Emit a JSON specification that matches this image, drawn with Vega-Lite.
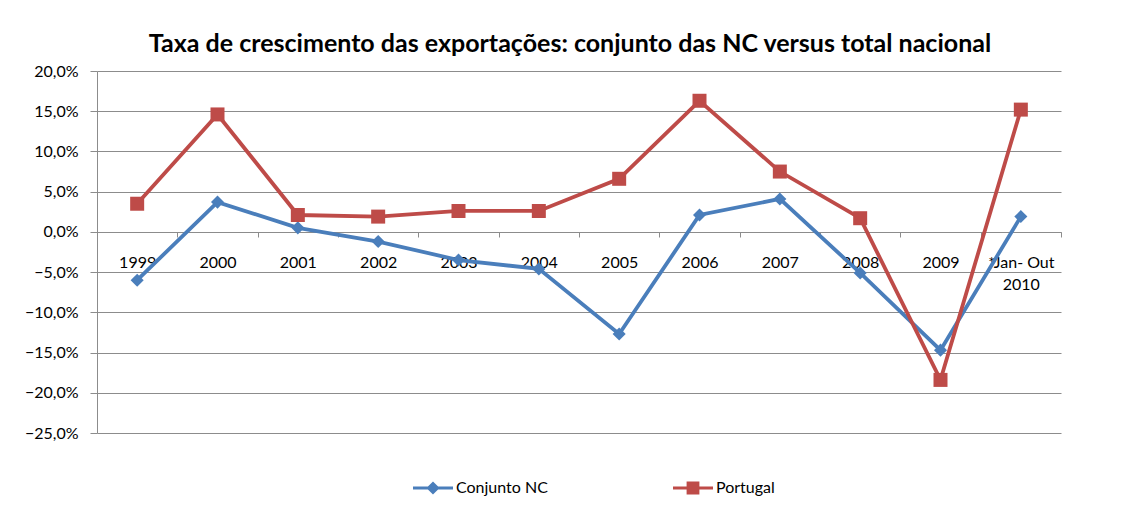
{
  "$schema": "https://vega.github.io/schema/vega-lite/v6.json",
  "width": 964,
  "height": 362,
  "autosize": "none",
  "padding": {"left": 97, "top": 71, "right": 63, "bottom": 79},
  "background": "white",
  "config": {
    "view": {"stroke": null},
    "font": "Lato",
    "axis": {"labelFont": "Lato", "labelColor": "#000000", "labelFontSize": 16, "gridColor": "#8c8c8c", "domainColor": "#8c8c8c", "tickColor": "#8c8c8c"}
  },
  "title": {
    "text": "Taxa de crescimento das exportações: conjunto das NC versus total nacional",
    "font": "Lato",
    "fontSize": 25,
    "fontWeight": "bold",
    "color": "#000000",
    "anchor": "middle",
    "dx": -9,
    "offset": 6
  },
  "data": {
    "values": [
      {"year": "1999", "series": "Conjunto NC", "value": -6.0},
      {"year": "2000", "series": "Conjunto NC", "value": 3.7},
      {"year": "2001", "series": "Conjunto NC", "value": 0.5},
      {"year": "2002", "series": "Conjunto NC", "value": -1.2},
      {"year": "2003", "series": "Conjunto NC", "value": -3.5},
      {"year": "2004", "series": "Conjunto NC", "value": -4.6},
      {"year": "2005", "series": "Conjunto NC", "value": -12.7},
      {"year": "2006", "series": "Conjunto NC", "value": 2.1},
      {"year": "2007", "series": "Conjunto NC", "value": 4.1},
      {"year": "2008", "series": "Conjunto NC", "value": -5.1},
      {"year": "2009", "series": "Conjunto NC", "value": -14.7},
      {"year": "*Jan- Out 2010", "series": "Conjunto NC", "value": 1.9},
      {"year": "1999", "series": "Portugal", "value": 3.5},
      {"year": "2000", "series": "Portugal", "value": 14.6},
      {"year": "2001", "series": "Portugal", "value": 2.1},
      {"year": "2002", "series": "Portugal", "value": 1.9},
      {"year": "2003", "series": "Portugal", "value": 2.6},
      {"year": "2004", "series": "Portugal", "value": 2.6},
      {"year": "2005", "series": "Portugal", "value": 6.6},
      {"year": "2006", "series": "Portugal", "value": 16.3},
      {"year": "2007", "series": "Portugal", "value": 7.5},
      {"year": "2008", "series": "Portugal", "value": 1.7},
      {"year": "2009", "series": "Portugal", "value": -18.4},
      {"year": "*Jan- Out 2010", "series": "Portugal", "value": 15.2}
    ]
  },
  "encoding": {
    "x": {
      "field": "year",
      "type": "nominal",
      "sort": null,
      "scale": {"type": "band", "paddingInner": 0, "paddingOuter": 0},
      "axis": {
        "title": null,
        "labelAngle": 0,
        "offset": -201,
        "tickBand": "extent",
        "tickSize": 5,
        "labelPadding": 17,
        "labelLineHeight": 22,
        "grid": false,
        "labelExpr": "datum.label == '*Jan- Out 2010' ? ['*Jan- Out', '2010'] : datum.label"
      }
    },
    "y": {
      "field": "value",
      "type": "quantitative",
      "scale": {"domain": [-25, 20], "nice": false, "zero": false},
      "axis": {
        "title": null,
        "values": [-25, -20, -15, -10, -5, 0, 5, 10, 15, 20],
        "tickSize": 7,
        "labelPadding": 12,
        "labelExpr": "replace(format(datum.value, '.1f'), '.', ',') + '%'"
      }
    }
  },
  "layer": [
    {
      "transform": [{"filter": "datum.series == 'Conjunto NC'"}],
      "mark": {"type": "line", "strokeWidth": 3.8, "color": "#4a7ebb"}
    },
    {
      "transform": [{"filter": "datum.series == 'Portugal'"}],
      "mark": {"type": "line", "strokeWidth": 3.8, "color": "#be4b48"}
    },
    {
      "transform": [{"filter": "datum.series == 'Conjunto NC'"}],
      "mark": {"type": "point", "shape": "diamond", "filled": true, "size": 170, "opacity": 1, "color": "#4a7ebb"}
    },
    {
      "transform": [{"filter": "datum.series == 'Portugal'"}],
      "mark": {"type": "point", "shape": "square", "filled": true, "size": 196, "opacity": 1, "color": "#be4b48"}
    },
    {
      "transform": [{"filter": "false"}],
      "mark": {"type": "point", "filled": true, "opacity": 1},
      "encoding": {
        "color": {
          "field": "series",
          "type": "nominal",
          "scale": {"domain": ["Conjunto NC", "Portugal"], "range": ["#4a7ebb", "#be4b48"]},
          "legend": {
            "title": null,
            "orient": "none",
            "direction": "horizontal",
            "legendX": 316,
            "legendY": 397,
            "symbolSize": 1600,
            "symbolOpacity": 1,
            "symbolStrokeWidth": 0,
            "labelFont": "Lato",
            "labelFontSize": 16,
            "labelColor": "#000000",
            "labelOffset": 3,
            "columnPadding": 125
          }
        },
        "shape": {
          "field": "series",
          "type": "nominal",
          "scale": {"domain": ["Conjunto NC", "Portugal"], "range": [
            "M-1,-0.08L1,-0.08L1,0.08L-1,0.08Z M0,-0.33L0.33,0L0,0.33L-0.33,0Z",
            "M-1,-0.08L1,-0.08L1,0.08L-1,0.08Z M-0.32,-0.32L0.32,-0.32L0.32,0.32L-0.32,0.32Z"
          ]}
        }
      }
    }
  ]
}
